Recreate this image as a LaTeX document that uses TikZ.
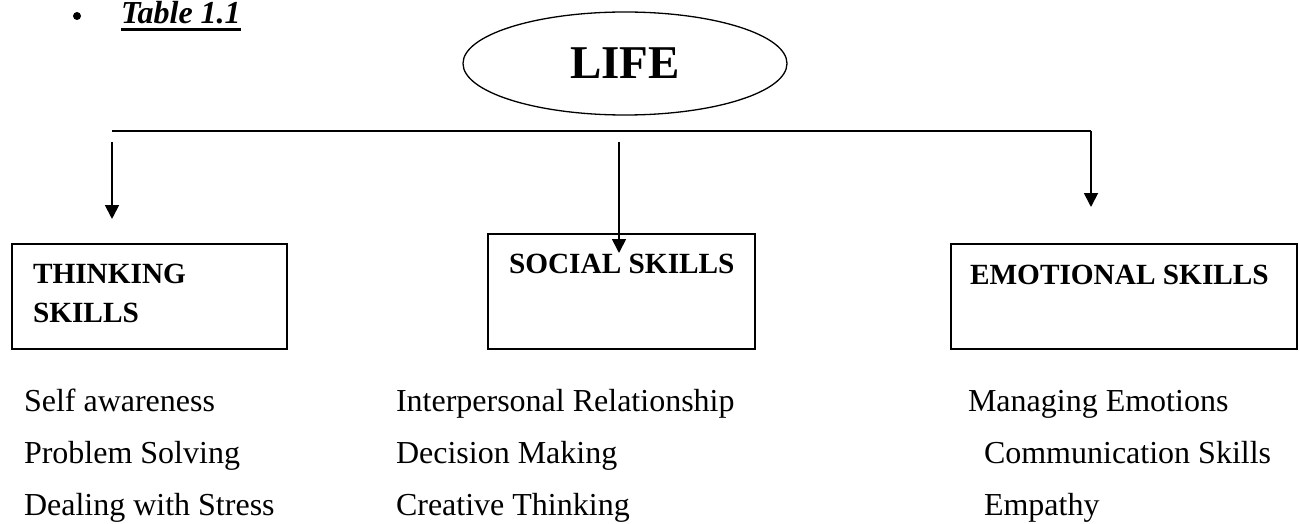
\documentclass[tikz,border=0pt]{standalone}
\usepackage{fontspec}
\setmainfont{Liberation Serif}
\usetikzlibrary{shapes.geometric,arrows.meta}
\begin{document}
\begin{tikzpicture}[x=1pt,y=-1pt,
  every node/.style={inner sep=0pt, outer sep=0pt},
  skillbox/.style={draw, line width=1.8pt, rectangle},
  head/.style={font=\fontsize{29.3}{33}\selectfont\bfseries, anchor=base west},
  item/.style={font=\fontsize{32}{36}\selectfont, anchor=base west},
  link/.style={line width=1.8pt},
  arr/.style={line width=1.8pt, -{Triangle[length=14pt,width=14pt]}}]
\useasboundingbox (0,0) rectangle (1299,524);

% title line
\node[circle, fill, minimum size=8pt] (dot) at (77,16) {};
\node[font=\fontsize{32}{35}\selectfont\bfseries\itshape, anchor=base west] (title) at (121,24) {Table 1.1};
\draw[line width=2.8pt] ([yshift=-5pt]title.south west) -- ([yshift=-5pt]title.south east);

% root
\node[draw, ellipse, line width=1.3pt, minimum width=324pt, minimum height=103pt,
      font=\fontsize{47}{50}\selectfont\bfseries] (life) at (625,63.5) {\raisebox{-2pt}{LIFE}};

% the three skill boxes
\node[skillbox, minimum width=275pt, minimum height=105pt] (think) at (149.5,296.5) {};
\node[skillbox, minimum width=267pt, minimum height=115pt] (social) at (621.5,291.5) {};
\node[skillbox, minimum width=346pt, minimum height=105pt] (emo) at (1124,296.5) {};

\node[head] (thinkA) at (33,283) {THINKING};
\node[head] (thinkB) at (33,322) {SKILLS};
\node[head] (socialT) at (509,273) {SOCIAL SKILLS};
\node[head] (emoT) at (970,284) {EMOTIONAL SKILLS};

% branch line and arrows
\coordinate (barL) at (112,131);
\coordinate (barR) at (1091,131);
\coordinate (aS) at (112,142);
\coordinate (aE) at (112,219);
\coordinate (bS) at (619,142);
\coordinate (bE) at (619,253);
\coordinate (cE) at (1091,207);
\draw[link] (barL) -- (barR);
\draw[arr] (barR) -- (cE);
\draw[arr] (aS) -- (aE);
\draw[arr] (bS) -- (bE);

% skill lists
\node[item] (t1) at (24,411) {Self awareness};
\node[item] (t2) at (24,463) {Problem Solving};
\node[item] (t3) at (24,515) {Dealing with Stress};
\node[item] (s1) at (396,411) {Interpersonal Relationship};
\node[item] (s2) at (396,463) {Decision Making};
\node[item] (s3) at (396,515) {Creative Thinking};
\node[item] (e1) at (968,411) {Managing Emotions};
\node[item] (e2) at (984,463) {Communication Skills};
\node[item] (e3) at (984,515) {Empathy};
\end{tikzpicture}
\end{document}
